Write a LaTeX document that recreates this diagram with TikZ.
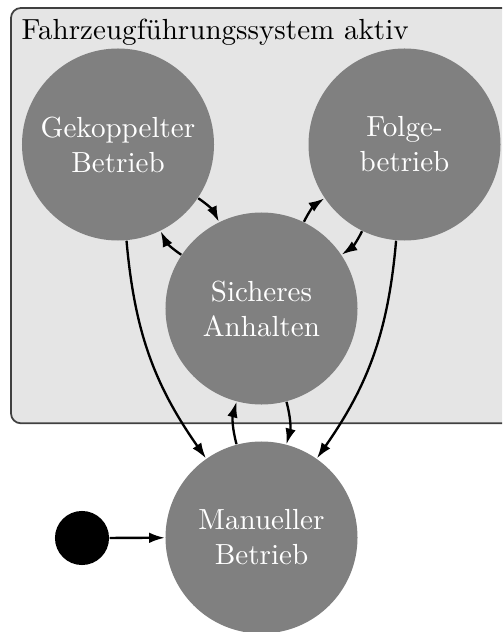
\documentclass[tikz,border=0pt]{standalone}
\usetikzlibrary{arrows.meta}
\begin{document}
\begin{tikzpicture}[x=0.344pt,y=-0.344pt,
  statenode/.style={circle, fill=black!50, draw=none, minimum size=66.05pt, inner sep=0pt, text=white, align=center},
  initnode/.style={circle, fill=black, draw=none, minimum size=18.6pt, inner sep=0pt},
  edge/.style={line width=0.8pt, -{Latex[length=5.4pt,width=3.6pt]}},
  container/.style={fill=black!10, draw=black!75, line width=0.6pt, rounded corners=3.4pt}]
\clip (0,0) rectangle (502,632);
\draw[container] (11,8) rectangle (530,423.3);
\node[anchor=base west, inner sep=0pt] (title) at (21,40) {Fahrzeugführungssystem aktiv};
\node[statenode] (G) at (118,144.5) {Gekoppelter\\Betrieb};
\node[statenode] (F) at (404.5,144.5) {Folge-\\betrieb};
\node[statenode] (S) at (261.5,308.5) {Sicheres\\Anhalten};
\node[statenode] (M) at (261.5,537.5) {Manueller\\Betrieb};
\node[initnode] (I) at (82,538) {};
\draw[edge] (I) -- (M);
\draw[edge] (G) to[bend left=15] (S);
\draw[edge] (S) to[bend left=15] (G);
\draw[edge] (S) to[bend left=15] (F);
\draw[edge] (F) to[bend left=15] (S);
\draw[edge] (G) to[bend right=15] (M);
\draw[edge] (F) to[bend left=15] (M);
\draw[edge] (M) to[bend left=15] (S);
\draw[edge] (S) to[bend left=15] (M);
\end{tikzpicture}
\end{document}
